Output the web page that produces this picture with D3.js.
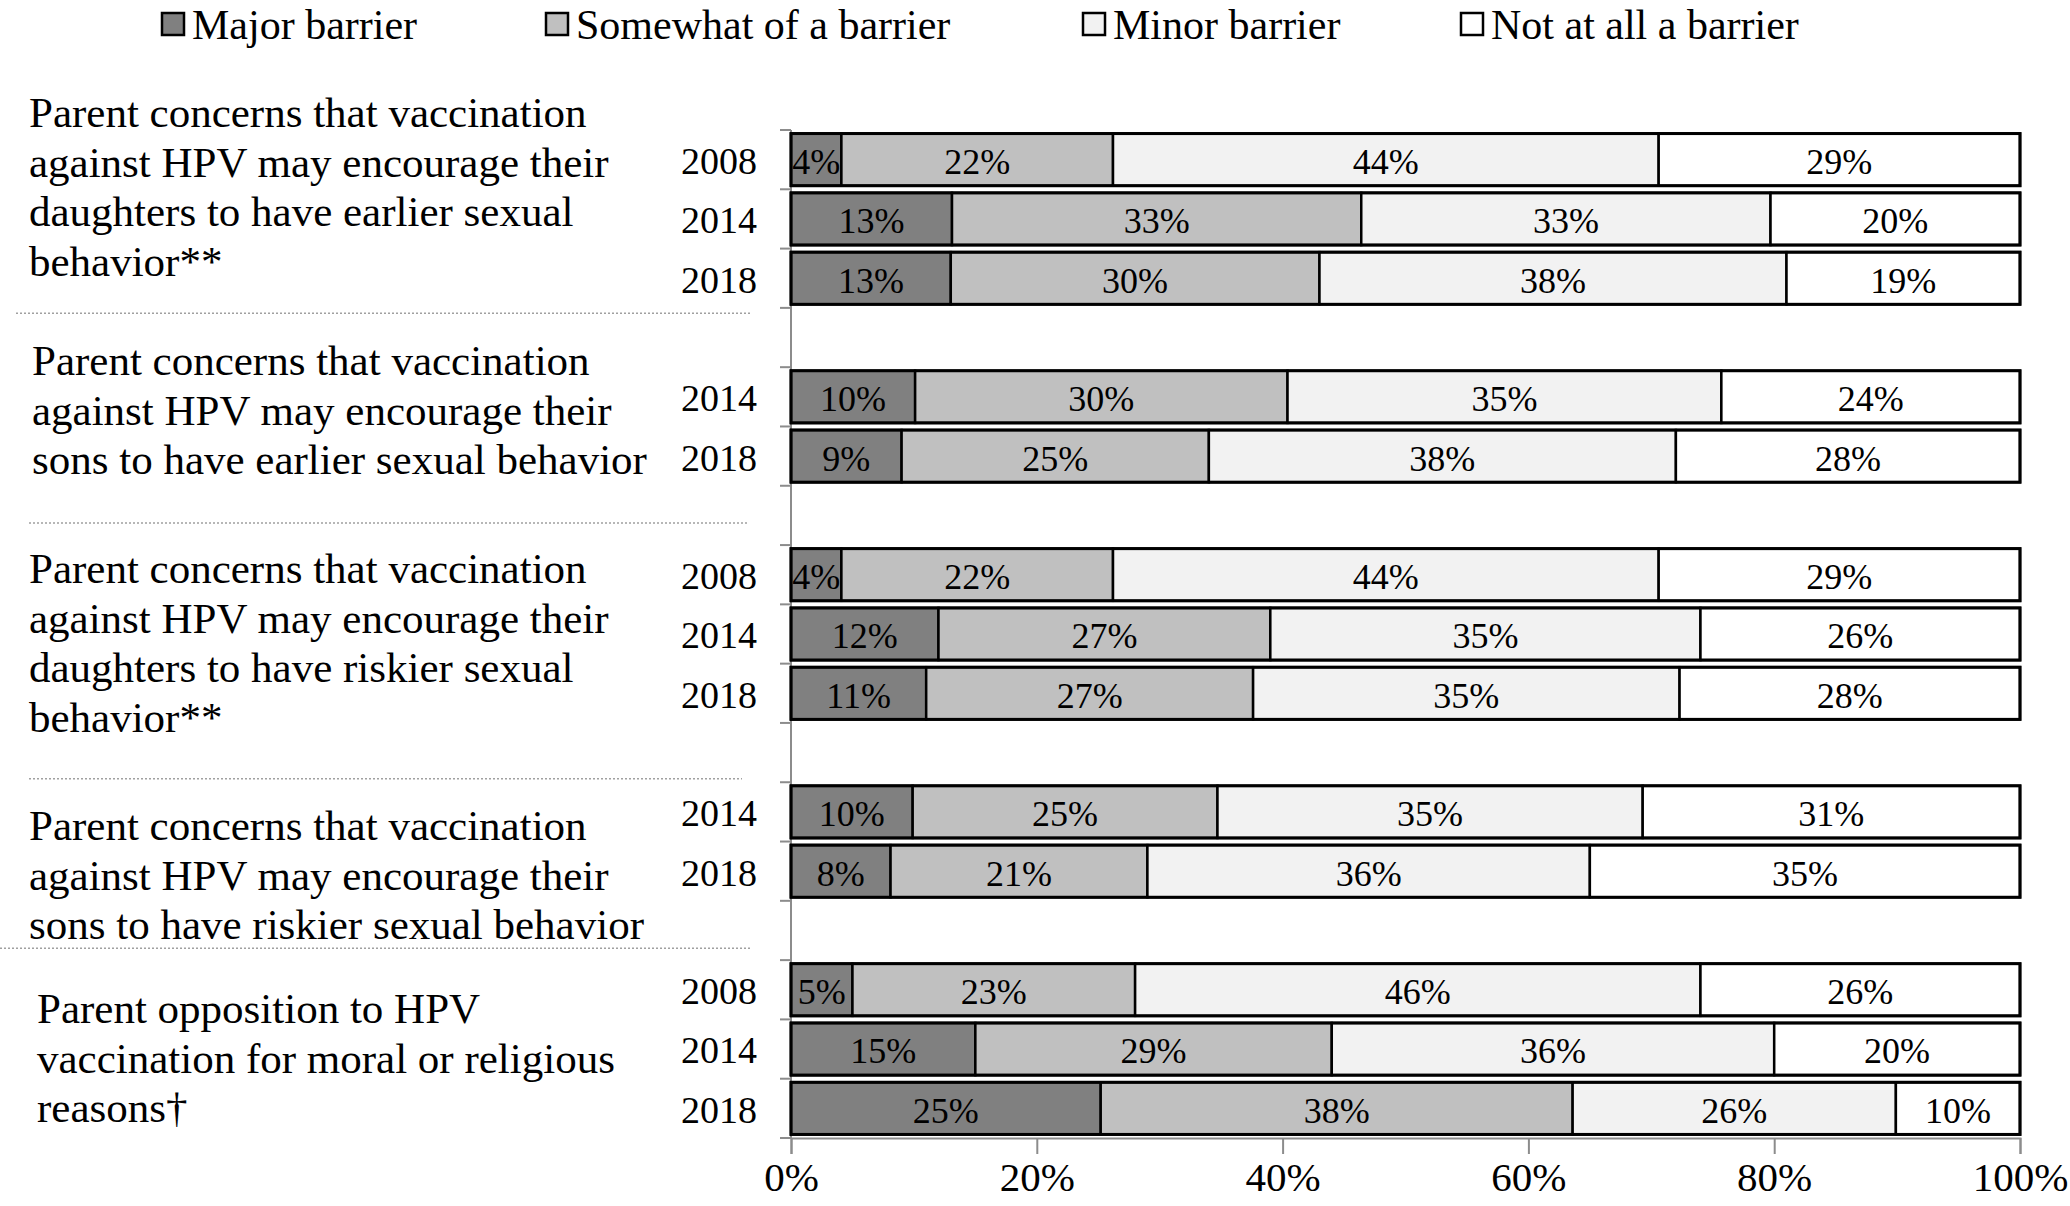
<!DOCTYPE html>
<html>
<head>
<meta charset="utf-8">
<script src="https://cdn.jsdelivr.net/npm/d3@7"></script>
<style>
  html, body { margin: 0; padding: 0; background: #ffffff; }
  svg { display: block; }
  text { font-family: "Liberation Serif", "Times New Roman", serif; fill: #000; }
</style>
</head>
<body>
<svg id="chart" width="2070" height="1206"></svg>
<script>
// ---------------- DATA ----------------
const seriesNames = ["Major barrier", "Somewhat of a barrier", "Minor barrier", "Not at all a barrier"];

const groupLabels = [
  ["Parent concerns that vaccination", "against HPV may encourage their", "daughters to have earlier sexual", "behavior**"],
  ["Parent concerns that vaccination", "against HPV may encourage their", "sons to have earlier sexual behavior"],
  ["Parent concerns that vaccination", "against HPV may encourage their", "daughters to have riskier sexual", "behavior**"],
  ["Parent concerns that vaccination", "against HPV may encourage their", "sons to have riskier sexual behavior"],
  ["Parent opposition to HPV", "vaccination for moral or religious", "reasons\u2020"]
];

const groupYears = [
  ["2008", "2014", "2018"],
  ["2014", "2018"],
  ["2008", "2014", "2018"],
  ["2014", "2018"],
  ["2008", "2014", "2018"]
];

// values per row: [major, somewhat, minor, not at all]
const group1Values = [[4.1, 22.1, 44.4, 29.4], [13.1, 33.3, 33.3, 20.3], [13.0, 30.0, 38.0, 19.0]];
const group2Values = [[10.1, 30.3, 35.3, 24.3], [9.0, 25.0, 38.0, 28.0]];
const group3Values = [[4.1, 22.1, 44.4, 29.4], [12.0, 27.0, 35.0, 26.0], [11.0, 26.6, 34.7, 27.7]];
const group4Values = [[9.9, 24.8, 34.6, 30.7], [8.1, 20.9, 36.0, 35.0]];
const group5Values = [[5.0, 23.0, 46.0, 26.0], [15.0, 29.0, 36.0, 20.0], [25.2, 38.4, 26.3, 10.1]];
const groupValues = [group1Values, group2Values, group3Values, group4Values, group5Values];

const xTickValues = [0, 20, 40, 60, 80, 100];

// ---------------- LAYOUT / STYLE ----------------
const colors = ["#808080", "#c0c0c0", "#f2f2f2", "#ffffff"];
const plot = { left: 791, right: 2020, top: 130, bottom: 1138 };
const labelFont = 43, yearFont = 38, valueFont = 36, tickFont = 41, legendFont = 42;
const lineGap = 49.6;
const labelOffset = [-0.30, -0.12, 0.39, 0.72, 0.81];
const labelX = [29, 32, 29, 29, 37];
const sepFrac = [0.09, 0.63, 0.94, 0.80];
const sepX = [[16, 750], [29, 747], [29, 742], [0, 752]];
const legendX = [162, 546, 1083, 1461];

// ---------------- BUILD ROWS ----------------
const rows = [];
const blanks = [];
const groupFirst = [];
let slot = 0;
groupValues.forEach((gv, gi) => {
  groupFirst.push(slot);
  gv.forEach((vals, ri) => {
    rows.push({ key: "r" + slot, year: groupYears[gi][ri], values: vals, group: gi });
    slot++;
  });
  if (gi < groupValues.length - 1) { blanks.push("r" + slot); slot++; }
});
const slotKeys = d3.range(slot).map(i => "r" + i);

const svg = d3.select("#chart");

const x = d3.scaleLinear().domain([0, 100]).range([plot.left, plot.right]);
const y = d3.scaleBand().domain(slotKeys).range([plot.top, plot.bottom]).paddingInner(0.12).paddingOuter(0.06);
const step = y.step();
const slotTop = k => plot.top + slotKeys.indexOf(k) * step;

// ---------------- AXES ----------------
const axisColor = "#8c8c8c";
svg.append("line")
  .attr("x1", x(0)).attr("x2", x(0))
  .attr("y1", plot.top).attr("y2", plot.bottom)
  .attr("stroke", axisColor).attr("stroke-width", 2);
svg.append("g").selectAll("line")
  .data(d3.range(slot + 1))
  .join("line")
  .attr("x1", x(0) - 11).attr("x2", x(0))
  .attr("y1", i => plot.top + i * step).attr("y2", i => plot.top + i * step)
  .attr("stroke", axisColor).attr("stroke-width", 2);

const xAxis = d3.axisBottom(x).tickValues(xTickValues).tickFormat(d => d + "%").tickSize(16).tickPadding(8);
const gx = svg.append("g").attr("transform", `translate(0,${plot.bottom})`).call(xAxis);
gx.select(".domain").attr("stroke", axisColor).attr("stroke-width", 2);
gx.selectAll(".tick line").attr("stroke", axisColor).attr("stroke-width", 2);
gx.selectAll(".tick text")
  .attr("font-family", '"Liberation Serif", "Times New Roman", serif')
  .attr("font-size", tickFont).attr("fill", "#000");

// ---------------- BARS ----------------
const stackGen = d3.stack().keys([0, 1, 2, 3]).value((d, k) => d.values[k]);
const stacked = stackGen(rows);

const rowG = svg.append("g");
stacked.forEach((layer, li) => {
  layer.forEach((seg, ri) => {
    const r = rows[ri];
    rowG.append("rect")
      .attr("x", x(seg[0]))
      .attr("y", y(r.key))
      .attr("width", x(seg[1]) - x(seg[0]))
      .attr("height", y.bandwidth())
      .attr("fill", colors[li])
      .attr("stroke", "#000")
      .attr("stroke-width", 2.5);
  });
});
rows.forEach(r => {
  rowG.append("rect")
    .attr("x", x(0)).attr("y", y(r.key))
    .attr("width", x(100) - x(0)).attr("height", y.bandwidth())
    .attr("fill", "none").attr("stroke", "#000").attr("stroke-width", 3);
});
stacked.forEach((layer, li) => {
  layer.forEach((seg, ri) => {
    const r = rows[ri];
    svg.append("text")
      .attr("x", (x(seg[0]) + x(seg[1])) / 2)
      .attr("y", y(r.key) + y.bandwidth() / 2)
      .attr("dy", "0.4em")
      .attr("text-anchor", "middle")
      .attr("font-size", valueFont)
      .text(d3.format(".0f")(seg[1] - seg[0]) + "%");
  });
});

svg.append("g").selectAll("text")
  .data(rows)
  .join("text")
  .attr("x", 757)
  .attr("y", d => y(d.key) + y.bandwidth() / 2)
  .attr("dy", "0.38em")
  .attr("text-anchor", "end")
  .attr("font-size", yearFont)
  .text(d => d.year);

groupLabels.forEach((lines, gi) => {
  const y0 = plot.top + (groupFirst[gi] + labelOffset[gi]) * step;
  const t = svg.append("text").attr("font-size", labelFont);
  lines.forEach((ln, li) => {
    t.append("tspan")
      .attr("x", labelX[gi])
      .attr("y", y0 + li * lineGap)
      .attr("dy", "0.35em")
      .text(ln);
  });
});

blanks.forEach((k, i) => {
  const yy = slotTop(k) + sepFrac[i] * step;
  svg.append("line")
    .attr("x1", sepX[i][0]).attr("x2", sepX[i][1])
    .attr("y1", yy).attr("y2", yy)
    .attr("stroke", "#a0a0a0").attr("stroke-width", 1.5)
    .attr("stroke-dasharray", "2,2");
});

// ---------------- LEGEND ----------------
const legend = svg.append("g");
seriesNames.forEach((name, i) => {
  const g = legend.append("g").attr("transform", `translate(${legendX[i]},24)`);
  g.append("rect")
    .attr("x", 0).attr("y", -11).attr("width", 22).attr("height", 22)
    .attr("fill", colors[i]).attr("stroke", "#000").attr("stroke-width", 2.5);
  g.append("text")
    .attr("x", 30).attr("y", 0).attr("dy", "0.35em")
    .attr("font-size", legendFont)
    .text(name);
});
</script>
</body>
</html>
